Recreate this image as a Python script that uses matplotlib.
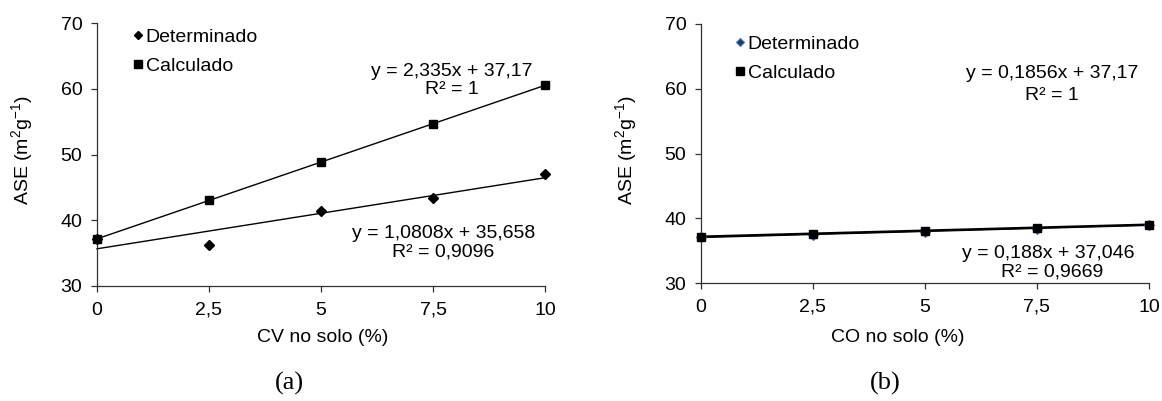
import matplotlib
matplotlib.use("Agg")
import matplotlib.pyplot as plt
from matplotlib.lines import Line2D
import numpy as np

plt.rcParams['font.family'] = ['Liberation Sans', 'DejaVu Sans']
plt.rcParams['mathtext.fontset'] = 'custom'
plt.rcParams['mathtext.rm'] = 'Liberation Sans'
plt.rcParams['mathtext.it'] = 'Liberation Sans:italic'

# ---- data ----
x_vals = [0, 2.5, 5, 7.5, 10]
x_ticklabels = ["0", "2,5", "5", "7,5", "10"]
y_ticks = [30, 40, 50, 60, 70]

a_determinado = [37.2, 36.2, 41.4, 43.4, 47.1]
a_calculado = [37.17, 43.01, 48.85, 54.68, 60.52]
a_fit_det = (1.0808, 35.658)
a_fit_cal = (2.335, 37.17)

b_determinado = [37.1, 37.4, 37.9, 38.3, 38.9]
b_calculado = [37.17, 37.63, 38.10, 38.56, 39.03]
b_fit_det = (0.188, 37.046)
b_fit_cal = (0.1856, 37.17)

a_eq_cal = ["y = 2,335x + 37,17", "R² = 1"]
a_eq_det = ["y = 1,0808x + 35,658", "R² = 0,9096"]
b_eq_cal = ["y = 0,1856x + 37,17", "R² = 1"]
b_eq_det = ["y = 0,188x + 37,046", "R² = 0,9669"]

W, H = 1162, 401
fig = plt.figure(figsize=(W / 100, H / 100), dpi=100)

FS = 14
AX_COL = '#303030'


def make_ax(l, r, t, b):
    return fig.add_axes([l / W, 1 - b / H, (r - l) / W, (b - t) / H])


def ptext(x, y, s, **kw):
    kw.setdefault('fontsize', FS)
    kw.setdefault('ha', 'center')
    kw.setdefault('va', 'center')
    return fig.text(x / W, 1 - y / H, s, **kw)


def style(ax):
    ax.set_xlim(0, 10)
    ax.set_ylim(30, 70)
    ax.set_xticks(x_vals)
    ax.set_xticklabels(x_ticklabels)
    ax.set_yticks(y_ticks)
    ax.spines['top'].set_visible(False)
    ax.spines['right'].set_visible(False)
    for s in ('left', 'bottom'):
        ax.spines[s].set_color(AX_COL)
        ax.spines[s].set_linewidth(0.9)
    ax.tick_params(axis='both', direction='out', length=4.5, color=AX_COL,
                   labelsize=FS, width=0.9)
    ax.tick_params(axis='y', pad=6)
    ax.tick_params(axis='x', pad=7)


def legend(ax, x, y, dmarker_kw):
    h1 = Line2D([], [], linestyle='none', marker='D', ms=4.5, **dmarker_kw)
    h2 = Line2D([], [], linestyle='none', marker='s', ms=5.5, color='black')
    ax.legend([h1, h2], ["Determinado", "Calculado"], loc='upper left',
              bbox_to_anchor=(x / W, 1 - y / H), bbox_transform=fig.transFigure,
              frameon=False, fontsize=FS, borderpad=0, borderaxespad=0,
              handlelength=0.35, handletextpad=0.2, labelspacing=0.62)


xs = np.array([0, 10])
ylabel = "ASE (m$^{2}$g$^{-1}$)"

# ---- panel (a) ----
axa = make_ax(97, 545, 23, 286)
style(axa)
axa.plot(xs, a_fit_cal[0] * xs + a_fit_cal[1], color='black', lw=1.0, clip_on=False)
axa.plot(xs, a_fit_det[0] * xs + a_fit_det[1], color='black', lw=1.0, clip_on=False)
axa.plot(x_vals, a_determinado, linestyle='none', marker='D', ms=5.5, color='black',
         clip_on=False, zorder=4)
axa.plot(x_vals, a_calculado, linestyle='none', marker='s', ms=6.3, color='black',
         clip_on=False, zorder=5)
legend(axa, 135, 28, dict(color='black'))

ptext(452, 71, a_eq_cal[0])
ptext(452, 89, a_eq_cal[1])
ptext(444, 233, a_eq_det[0])
ptext(443, 252, a_eq_det[1])
ptext(22, 150, ylabel, rotation=90)
ptext(323, 338, "CV no solo (%)")
ptext(289, 383, "(a)", fontsize=19, family='Liberation Serif')

# ---- panel (b) ----
axb = make_ax(701, 1149, 24, 283)
style(axb)
axb.plot(xs, b_fit_cal[0] * xs + b_fit_cal[1], color='black', lw=1.6, clip_on=False)
axb.plot(xs, b_fit_det[0] * xs + b_fit_det[1], color='black', lw=1.2, clip_on=False)
dkw = dict(markerfacecolor='#1F3864', markeredgecolor='#4472C4', markeredgewidth=0.8)
axb.plot(x_vals, b_determinado, linestyle='none', marker='D', ms=5.5,
         clip_on=False, zorder=4, **dkw)
axb.plot(x_vals, b_calculado, linestyle='none', marker='s', ms=6.3, color='black',
         clip_on=False, zorder=5)
legend(axb, 737, 35, dkw)

ptext(1052, 74, b_eq_cal[0])
ptext(1052, 95, b_eq_cal[1])
ptext(1048, 254, b_eq_det[0])
ptext(1052, 272, b_eq_det[1])
ptext(626, 150, ylabel, rotation=90)
ptext(898, 338, "CO no solo (%)")
ptext(885, 383, "(b)", fontsize=19, family='Liberation Serif')

fig.savefig("out.png", dpi=100)
